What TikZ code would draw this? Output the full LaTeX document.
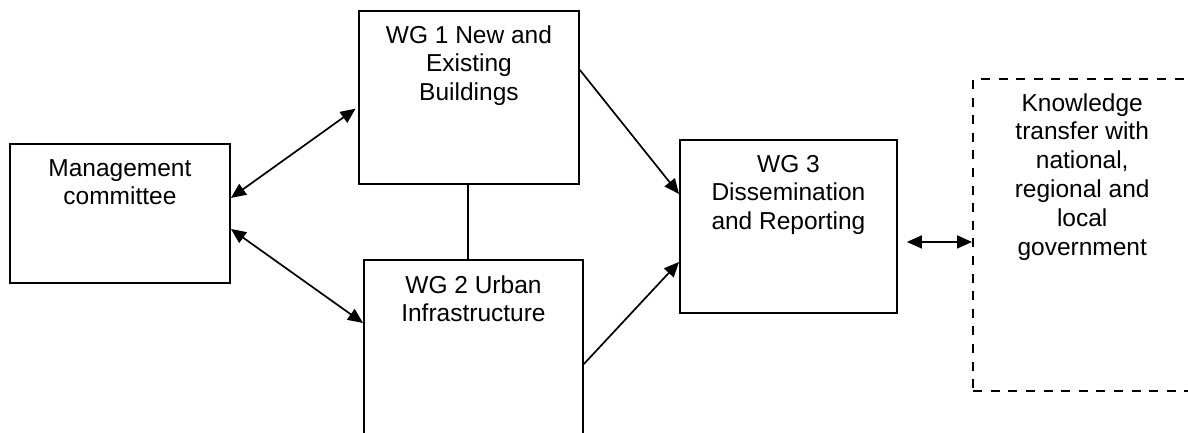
\documentclass[tikz,border=0pt]{standalone}
\usepackage{fontspec}
\setmainfont{Liberation Sans}
\usetikzlibrary{arrows.meta}
\newcommand{\boxlines}[1]{\parbox[t]{212pt}{\centering #1}}
\begin{document}
\begin{tikzpicture}[x=1pt,y=-1pt,
  box/.style={draw, line width=1.9pt, inner sep=0pt, anchor=north west},
  dbox/.style={draw, line width=2.4pt, dash pattern=on 9pt off 8.6pt, inner sep=0pt, anchor=north west},
  lbl/.style={inner sep=0pt, anchor=base, font=\fontsize{24.5}{28.8}\selectfont},
  conn/.style={line width=1.7pt},
  tip/.tip={Triangle[length=15pt,width=13pt]},
  arr/.style={conn, -tip},
  darr/.style={conn, tip-tip}]
\useasboundingbox (0,0) rectangle (1188,432);
\clip (0,0) rectangle (1188,432);
\fill[white] (0,0) rectangle (1188,432);

% boxes
\node[box, minimum width=220pt, minimum height=139pt] (mc) at (9,143) {};
\node[box, minimum width=220pt, minimum height=173pt] (wg1) at (358,10) {};
\node[box, minimum width=219pt, minimum height=185pt] (wg2) at (363,259) {};
\node[box, minimum width=217pt, minimum height=173pt] (wg3) at (679,139) {};
\node[dbox, minimum width=222pt, minimum height=312pt] (kt) at (972,78) {};

% labels
\node[lbl] (mct) at ([yshift=-33pt]mc.north) {\boxlines{Management\\committee}};
\node[lbl] (wg1t) at ([yshift=-33pt]wg1.north) {\boxlines{WG 1 New and\\Existing\\Buildings}};
\node[lbl] (wg2t) at ([yshift=-34pt]wg2.north) {\boxlines{WG 2 Urban\\Infrastructure}};
\node[lbl] (wg3t) at ([yshift=-33pt]wg3.north) {\boxlines{WG 3\\Dissemination\\and Reporting}};
\node[lbl] (ktt) at ([yshift=-33pt,xshift=-2pt]kt.north) {\boxlines{Knowledge\\transfer with\\national,\\regional and\\local\\government}};

% connectors
\draw[darr, shorten >=3pt] ([yshift=15.5pt]mc.east) -- ([yshift=-9.5pt]wg1.west);
\draw[darr] ([yshift=-15.5pt]mc.east) -- ([yshift=-64pt]wg2.north west);
\draw[arr] ([yshift=27.5pt]wg1.east) -- ([yshift=32.5pt]wg3.west);
\draw[arr] ([yshift=-105pt]wg2.north east) -- ([yshift=-35.5pt]wg3.west);
\draw[conn] ([xshift=-1pt]wg1.south) -- ([xshift=-1pt]wg1.south |- wg2.north);
\draw[darr] ([yshift=-15.5pt,xshift=9pt]wg3.east) -- ([yshift=-15.5pt]wg3.east -| kt.west);
\end{tikzpicture}
\end{document}
